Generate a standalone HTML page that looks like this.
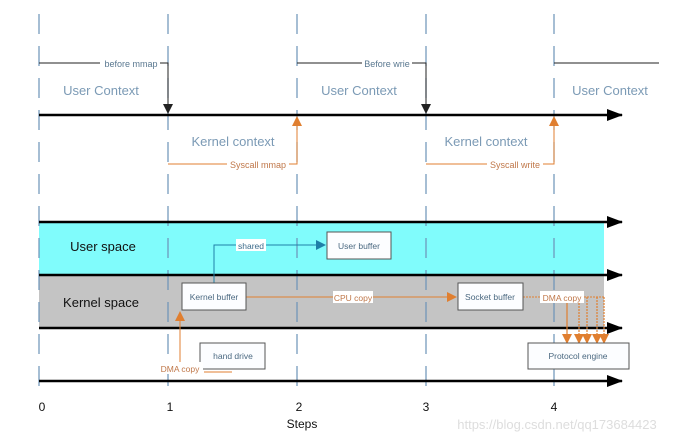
<!DOCTYPE html>
<html><head><meta charset="utf-8"><style>
html,body{margin:0;padding:0;background:#fff;}
svg{display:block;font-family:"Liberation Sans","DejaVu Sans",sans-serif;}
</style></head><body>
<svg width="694" height="443" viewBox="0 0 694 443" xmlns="http://www.w3.org/2000/svg">
<defs>
<marker id="blk" markerWidth="10" markerHeight="10" refX="9" refY="5" orient="auto" markerUnits="userSpaceOnUse"><path d="M0,0 L10,5 L0,10 z" fill="#222"/></marker>
<marker id="big" markerWidth="16" markerHeight="12" refX="15" refY="6" orient="auto" markerUnits="userSpaceOnUse"><path d="M0,0 L16,6 L0,12 z" fill="#000"/></marker>
<marker id="org" markerWidth="10" markerHeight="10" refX="9" refY="5" orient="auto" markerUnits="userSpaceOnUse"><path d="M0,0 L10,5 L0,10 z" fill="#e07f30"/></marker>
<marker id="blu" markerWidth="10" markerHeight="10" refX="9" refY="5" orient="auto" markerUnits="userSpaceOnUse"><path d="M0,0 L10,5 L0,10 z" fill="#1f7fa8"/></marker>
</defs>
<rect width="694" height="443" fill="#fff"/>
<!-- bands -->
<rect x="39" y="222" width="565" height="53" fill="#80fcfc"/>
<rect x="39" y="275" width="565" height="53" fill="#c4c4c4"/>
<!-- dashed verticals -->
<g stroke="#6c93b8" stroke-width="1.2" stroke-dasharray="20,12">
<line x1="39" y1="14" x2="39" y2="392"/>
<line x1="168" y1="14" x2="168" y2="392"/>
<line x1="297" y1="14" x2="297" y2="392"/>
<line x1="426" y1="14" x2="426" y2="392"/>
<line x1="554" y1="14" x2="554" y2="392"/>
</g>
<!-- main arrows -->
<g stroke="#000" stroke-width="2.5" marker-end="url(#big)">
<line x1="39" y1="115" x2="622" y2="115"/>
<line x1="39" y1="222" x2="622" y2="222"/>
<line x1="39" y1="275" x2="622" y2="275"/>
<line x1="39" y1="328" x2="622" y2="328"/>
<line x1="39" y1="381" x2="622" y2="381"/>
</g>
<!-- top context lines -->
<g stroke="#222" stroke-width="1" fill="none">
<polyline points="39,63 168,63 168,113" marker-end="url(#blk)"/>
<polyline points="297,63 426,63 426,113" marker-end="url(#blk)"/>
<line x1="554" y1="63" x2="659" y2="63"/>
</g>
<rect x="100" y="57" width="60" height="12" fill="#fff"/>
<text x="131" y="67" font-size="9" fill="#5a7890" text-anchor="middle">before mmap</text>
<rect x="362" y="57" width="50" height="12" fill="#fff"/>
<text x="387" y="67" font-size="9" fill="#5a7890" text-anchor="middle">Before wrie</text>
<g stroke="#e07f30" stroke-width="1" fill="none">
<polyline points="168,164 297,164 297,117" marker-end="url(#org)"/>
<polyline points="426,164 554,164 554,117" marker-end="url(#org)"/>
</g>
<rect x="227" y="158" width="62" height="12" fill="#fff"/>
<text x="258" y="168" font-size="9" fill="#c0784a" text-anchor="middle">Syscall mmap</text>
<rect x="487" y="158" width="56" height="12" fill="#fff"/>
<text x="515" y="168" font-size="9" fill="#c0784a" text-anchor="middle">Syscall write</text>
<g font-size="13" fill="#7b9ab5" text-anchor="middle">
<text x="101" y="95">User Context</text>
<text x="359" y="95">User Context</text>
<text x="610" y="95">User Context</text>
<text x="233" y="146">Kernel context</text>
<text x="486" y="146">Kernel context</text>
</g>
<!-- space labels -->
<text x="103" y="251" font-size="13" fill="#111" text-anchor="middle">User space</text>
<text x="101" y="307" font-size="13" fill="#111" text-anchor="middle">Kernel space</text>
<!-- shared -->
<polyline points="214,283 214,245 325,245" stroke="#1f7fa8" stroke-width="1" fill="none" marker-end="url(#blu)"/>
<rect x="236" y="239" width="30" height="12" fill="#fff"/>
<text x="251" y="249" font-size="8.5" fill="#3a6a8a" text-anchor="middle">shared</text>
<!-- CPU copy -->
<line x1="246" y1="297" x2="456" y2="297" stroke="#e07f30" stroke-width="1" marker-end="url(#org)"/>
<rect x="333" y="291" width="40" height="12" fill="#fff"/>
<text x="353" y="301" font-size="8.5" fill="#c0784a" text-anchor="middle">CPU copy</text>
<!-- DMA copy right -->
<line x1="523" y1="297" x2="540" y2="297" stroke="#e07f30" stroke-width="1" stroke-dasharray="2,1"/>
<line x1="584" y1="297" x2="604" y2="297" stroke="#e07f30" stroke-width="1" stroke-dasharray="2,1"/>
<g stroke="#e07f30" stroke-width="1.2" marker-end="url(#org)">
<line x1="567" y1="303" x2="567" y2="343"/>
</g>
<g stroke="#e07f30" stroke-width="1.2" stroke-dasharray="2,1" marker-end="url(#org)">
<line x1="579" y1="297" x2="579" y2="343"/>
<line x1="587" y1="297" x2="587" y2="343"/>
<line x1="597" y1="297" x2="597" y2="343"/>
<line x1="604" y1="297" x2="604" y2="343"/>
</g>
<rect x="540" y="291" width="44" height="12" fill="#fff"/>
<text x="562" y="301" font-size="8.5" fill="#c0784a" text-anchor="middle">DMA copy</text>
<!-- DMA copy left -->
<line x1="180" y1="365" x2="180" y2="312" stroke="#e07f30" stroke-width="1" marker-end="url(#org)"/>
<line x1="204" y1="372" x2="232" y2="372" stroke="#e07f30" stroke-width="1"/>
<!-- boxes -->
<g fill="#fcfdff" stroke="#555" stroke-width="1">
<rect x="182" y="283" width="64" height="27"/>
<rect x="327" y="232" width="64" height="27"/>
<rect x="458" y="283" width="65" height="27"/>
<rect x="200" y="343" width="65" height="26"/>
<rect x="528" y="343" width="101" height="26"/>
</g>
<g font-size="8.5" fill="#4a6880" text-anchor="middle">
<text x="214" y="300">Kernel buffer</text>
<text x="359" y="249">User buffer</text>
<text x="490" y="300">Socket buffer</text>
<text x="233" y="359">hand drive</text>
<text x="578" y="359">Protocol engine</text>
</g>
<rect x="157" y="362" width="46" height="12" fill="#fff"/>
<text x="180" y="372" font-size="8.5" fill="#c0784a" text-anchor="middle">DMA copy</text>
<!-- axis -->
<g font-size="12" fill="#111" text-anchor="middle">
<text x="42" y="411">0</text>
<text x="170" y="411">1</text>
<text x="299" y="411">2</text>
<text x="426" y="411">3</text>
<text x="554" y="411">4</text>
<text x="302" y="428">Steps</text>
</g>
<text x="557" y="429" font-size="13" fill="#ddd" text-anchor="middle">https://blog.csdn.net/qq173684423</text>
</svg>
</body></html>
